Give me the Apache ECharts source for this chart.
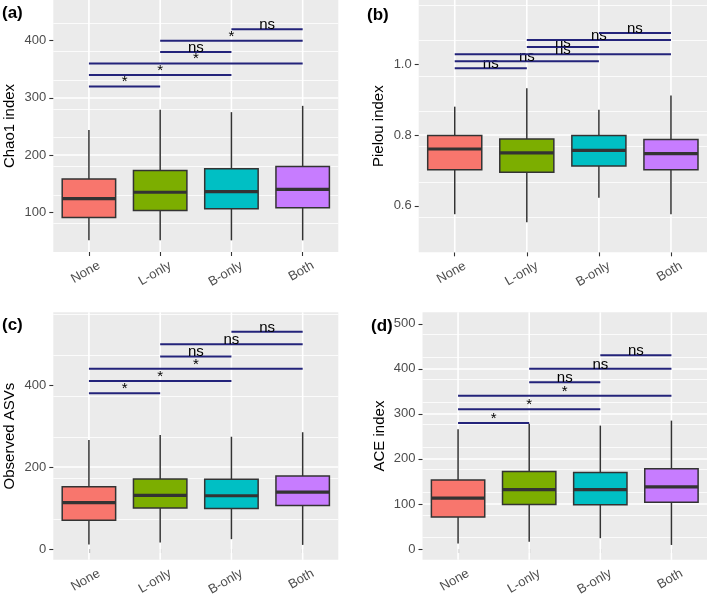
<!DOCTYPE html>
<html><head><meta charset="utf-8">
<script src="https://cdn.jsdelivr.net/npm/echarts@6/dist/echarts.min.js"></script>
<style>html,body{margin:0;padding:0;background:#fff}#c{width:709px;height:598px}</style>
</head><body><div id="c"></div>
<script>
// ---------- data ----------
const categories = ['None', 'L-only', 'B-only', 'Both'];
const boxColors = ['#F8766D', '#7CAE00', '#00BFC4', '#C77CFF'];
// each row: [lower whisker, Q1, median, Q3, upper whisker]
const chao1Stats    = [[51, 91, 124, 158, 244], [51, 103, 135, 173, 279], [51, 106, 136, 176, 275], [51, 108, 140, 180, 286]];
const pielouStats   = [[0.576, 0.702, 0.761, 0.799, 0.881], [0.553, 0.695, 0.750, 0.789, 0.933], [0.623, 0.713, 0.757, 0.799, 0.872], [0.576, 0.702, 0.748, 0.788, 0.913]];
const observedStats = [[11, 70, 113, 152, 266], [16, 100, 131, 171, 278], [24, 99, 130, 170, 274], [10, 106, 139, 178, 285]];
const aceStats      = [[12, 71, 113, 153, 266], [16, 99, 132, 172, 278], [24, 98, 132, 170, 274], [9, 104, 138, 178, 285]];
// pairwise comparisons (category indices)
const pairs = [[0, 1], [0, 2], [0, 3], [1, 2], [1, 3], [2, 3]];
const chao1BracketY    = [320, 340, 360, 380, 400, 420];
const chao1BracketLbl  = ['*', '*', '*', 'ns', '*', 'ns'];
const pielouBracketY   = [0.99, 1.01, 1.03, 1.05, 1.07, 1.09];
const pielouBracketLbl = ['ns', 'ns', 'ns', 'ns', 'ns', 'ns'];
const obsBracketY      = [380, 410, 440, 470, 500, 530];
const obsBracketLbl    = ['*', '*', '*', 'ns', 'ns', 'ns'];
const aceBracketY      = [280, 310, 340, 370, 400, 430];
const aceBracketLbl    = ['*', '*', '*', 'ns', 'ns', 'ns'];
// y tick labels
const chao1Ticks  = [100, 200, 300, 400];
const pielouTicks = [0.6, 0.8, 1.0];
const obsTicks    = [0, 200, 400];
const aceTicks    = [0, 100, 200, 300, 400, 500];

// ---------- panels ----------
const panels = [
  {tag: '(a)', name: 'Chao1 index',   stats: chao1Stats,    by: chao1BracketY,  bl: chao1BracketLbl,  ticks: chao1Ticks,  min: 30.6,  max: 471,   major: 100, minor: 50,  fmt: v => String(v),
   grid: {left: 53.3, top: 0, width: 285, height: 252}, tagPos: [2, 15], gap: 36},
  {tag: '(b)', name: 'Pielou index',  stats: pielouStats,   by: pielouBracketY, bl: pielouBracketLbl, ticks: pielouTicks, min: 0.468, max: 1.1835, major: 0.2, minor: 0.1, fmt: v => v.toFixed(1),
   grid: {left: 418.7, top: 0, width: 288.3, height: 252.3}, tagPos: [367, 17], gap: 32},
  {tag: '(c)', name: 'Observed ASVs', stats: observedStats, by: obsBracketY,    bl: obsBracketLbl,    ticks: obsTicks,    min: -26.4, max: 577.7, major: 200, minor: 100, fmt: v => String(v),
   grid: {left: 53.3, top: 312.3, width: 285, height: 251.7}, tagPos: [2, 327], gap: 36},
  {tag: '(d)', name: 'ACE index',     stats: aceStats,      by: aceBracketY,    bl: aceBracketLbl,    ticks: aceTicks,    min: -24,   max: 525.5, major: 100, minor: 50,  fmt: v => String(v),
   grid: {left: 422.5, top: 312.3, width: 284.5, height: 251.7}, tagPos: [371, 328], gap: 35}
];

const FONT = '"Liberation Sans", Arial, Helvetica, sans-serif';
const grids = [], xAxes = [], yAxes = [], series = [], graphics = [];

panels.forEach((p, i) => {
  grids.push(Object.assign({show: true, backgroundColor: '#EBEBEB', borderWidth: 0, containLabel: false}, p.grid));
  xAxes.push({
    type: 'category', gridIndex: i, data: categories, boundaryGap: true,
    axisLine: {show: false},
    axisTick: {show: true, alignWithLabel: true, length: 4, lineStyle: {color: '#333', width: 1.1}},
    axisLabel: {rotate: 30, margin: 11, verticalAlign: 'top', padding: [0, -8, 0, 0], color: '#4D4D4D', fontSize: 13, fontFamily: FONT},
    splitLine: {show: false}
  });
  // major axis (labels, ticks, major grid)
  yAxes.push({
    type: 'value', gridIndex: i, min: p.min, max: p.max, interval: p.major,
    name: p.name, nameLocation: 'middle', nameRotate: 90, nameGap: p.gap,
    nameTextStyle: {color: '#000', fontSize: 15, fontFamily: FONT},
    axisLine: {show: false},
    axisTick: {show: true, length: 4, customValues: p.ticks, lineStyle: {color: '#333', width: 1.1}},
    axisLabel: {color: '#4D4D4D', fontSize: 13, fontFamily: FONT, margin: 7, customValues: p.ticks, formatter: p.fmt},
    splitLine: {show: true, showMinLine: false, showMaxLine: false, lineStyle: {color: '#FFFFFF', width: 1.6}}
  });
  // minor grid axis
  yAxes.push({
    type: 'value', gridIndex: i, min: p.min, max: p.max, interval: p.minor, show: true,
    axisLine: {show: false}, axisTick: {show: false}, axisLabel: {show: false},
    splitLine: {show: true, showMinLine: false, showMaxLine: false, lineStyle: {color: '#FFFFFF', width: 0.8}}
  });
  const yMajor = i * 2;
  // vertical grid lines at categories
  series.push({
    type: 'custom', xAxisIndex: i, yAxisIndex: yMajor, z: 1, silent: true,
    data: categories.map((c, k) => [k]),
    encode: {x: 0},
    renderItem: (params, api) => {
      const cs = params.coordSys;
      const x = api.coord([api.value(0), p.min])[0];
      return {type: 'line', shape: {x1: x, y1: cs.y, x2: x, y2: cs.y + cs.height}, style: {stroke: '#FFFFFF', lineWidth: 1.6}};
    }
  });
  // boxplots
  series.push({
    type: 'custom', xAxisIndex: i, yAxisIndex: yMajor, z: 2, silent: true,
    data: p.stats.map((s, k) => [k].concat(s)),
    encode: {x: 0, y: [1, 2, 3, 4, 5]},
    renderItem: (params, api) => {
      const k = api.value(0);
      const lo = api.coord([k, api.value(1)]);
      const q1 = api.coord([k, api.value(2)]);
      const md = api.coord([k, api.value(3)]);
      const q3 = api.coord([k, api.value(4)]);
      const hi = api.coord([k, api.value(5)]);
      const bw = api.size([1, 0])[0] * 0.75;
      const cx = md[0];
      const st = {stroke: '#333333', lineWidth: 1.5};
      return {type: 'group', children: [
        {type: 'line', shape: {x1: cx, y1: hi[1], x2: cx, y2: q3[1]}, style: st},
        {type: 'line', shape: {x1: cx, y1: q1[1], x2: cx, y2: lo[1]}, style: st},
        {type: 'rect', shape: {x: cx - bw / 2, y: q3[1], width: bw, height: q1[1] - q3[1]},
         style: {fill: boxColors[params.dataIndex], stroke: '#333333', lineWidth: 1.5}},
        {type: 'line', shape: {x1: cx - bw / 2, y1: md[1], x2: cx + bw / 2, y2: md[1]}, style: {stroke: '#333333', lineWidth: 3.2}}
      ]};
    }
  });
  // significance brackets
  series.push({
    type: 'custom', xAxisIndex: i, yAxisIndex: yMajor, z: 3, silent: true,
    data: pairs.map((pr, k) => [pr[0], pr[1], p.by[k]]),
    encode: {x: [0, 1], y: 2},
    renderItem: (params, api) => {
      const a = api.coord([api.value(0), api.value(2)]);
      const b = api.coord([api.value(1), api.value(2)]);
      return {type: 'group', children: [
        {type: 'line', shape: {x1: a[0], y1: a[1], x2: b[0], y2: b[1]}, style: {stroke: '#23237A', lineWidth: 2}},
        {type: 'text', style: {x: (a[0] + b[0]) / 2, y: a[1] - 4.2, text: p.bl[params.dataIndex], align: 'center', verticalAlign: 'middle',
          fill: '#000', font: '15px ' + FONT}}
      ]};
    }
  });
  graphics.push({type: 'text', left: p.tagPos[0], top: p.tagPos[1] - 10, z: 10,
    style: {text: p.tag, fill: '#000', font: 'bold 17px ' + FONT}});
});

const chart = echarts.init(document.getElementById('c'), null, {renderer: 'canvas'});
chart.setOption({
  animation: false,
  backgroundColor: '#FFFFFF',
  grid: grids, xAxis: xAxes, yAxis: yAxes, series: series, graphic: graphics
});
</script>
</body></html>
